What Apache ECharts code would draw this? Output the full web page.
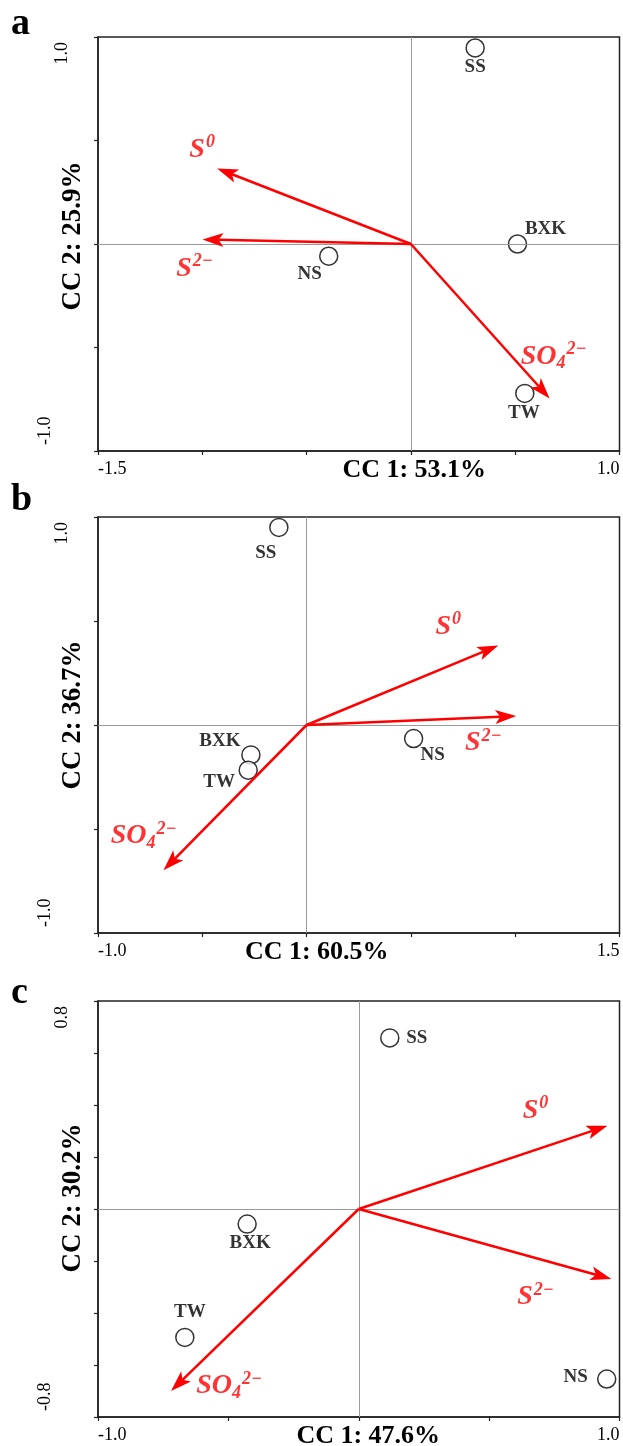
<!DOCTYPE html>
<html>
<head>
<meta charset="utf-8">
<script src="https://cdn.jsdelivr.net/npm/echarts@6/dist/echarts.min.js"></script>
<style>
html, body { margin: 0; padding: 0; background: #ffffff; }
#chart { width: 623px; height: 1446px; }
</style>
</head>
<body>
<div id="chart"></div>
<script>
// ---------------- data ----------------
const panelLetters = ['a', 'b', 'c'];
const siteNames = ['SS', 'BXK', 'NS', 'TW'];
const sitesAx = [0.308, 0.511, -0.394, 0.546];
const sitesAy = [0.947, 0.000, -0.059, -0.722];
const sitesBx = [-0.133, -0.267, 0.513, -0.280];
const sitesBy = [0.950, -0.144, -0.065, -0.217];
const sitesCx = [0.119, -0.428, 0.951, -0.667];
const sitesCy = [0.658, -0.058, -0.654, -0.494];

const varNames = ['S0', 'S2-', 'SO42-'];
const varsAx = [-0.929, -0.999, 0.665];
const varsAy = [0.365, 0.022, -0.746];
const varsBx = [0.919, 1.005, -0.686];
const varsBy = [0.382, 0.043, -0.698];
const varsCx = [0.954, 0.969, -0.720];
const varsCy = [0.320, -0.269, -0.700];

const xTitles = ['CC 1: 53.1%', 'CC 1: 60.5%', 'CC 1: 47.6%'];
const yTitles = ['CC 2: 25.9%', 'CC 2: 36.7%', 'CC 2: 30.2%'];
const xRanges = [[-1.5, 1.0], [-1.0, 1.5], [-1.0, 1.0]];
const yRanges = [[-1.0, 1.0], [-1.0, 1.0], [-0.8, 0.8]];
const xSteps = [0.5, 0.5, 0.5];
const ySteps = [0.5, 0.5, 0.2];

// ---------------- layout / style ----------------
const FONT = 'Liberation Serif';
const RED = '#ff0000';
const AXIS_COLOR = '#222222';
const gridBoxes = [
  { top: 37, height: 414 },
  { top: 517, height: 416 },
  { top: 1001, height: 416 }
];
const letterTops = [5, 481, 974];
const xNamePad = [[0, 0, 0, 111], [0, 84, 0, 0], [0, 0, 0, 19]];
const yNamePad = [[0, 0, 0, 16], [0, 0, 0, 20], [0, 0, 0, 22]];
const siteLabelOffsets = [
  [[0, 19], [28, -15], [-19, 18], [-1, 20]],
  [[-13, 26], [-31, -14], [19, 17], [-29, 12]],
  [[27, 0], [3, 19], [-31, -2], [5, -25]]
];
const varLabelOffsets = [
  [[-15, -19], [-8, 29], [4, -42]],
  [[-50, -19], [-33, 27], [-20, -34]],
  [[-72, -15], [-76, 18], [58, -5]]
];

const sitesX = [sitesAx, sitesBx, sitesCx];
const sitesY = [sitesAy, sitesBy, sitesCy];
const varsX = [varsAx, varsBx, varsCx];
const varsY = [varsAy, varsBy, varsCy];

function varRich(name) {
  if (name === 'S0') return '{m|S}{sup|0}';
  if (name === 'S2-') return '{m|S}{sup|2\u2212}';
  return '{m|SO}{sub|4}{sup|2\u2212}';
}

const varRichStyles = {
  m: { fontFamily: FONT, fontStyle: 'italic', fontWeight: 'bold', fontSize: 28, color: RED, lineHeight: 32 },
  sup: { fontFamily: FONT, fontStyle: 'italic', fontWeight: 'bold', fontSize: 18, color: RED, lineHeight: 18, verticalAlign: 'top', padding: [0, 0, 0, 1] },
  sub: { fontFamily: FONT, fontStyle: 'italic', fontWeight: 'bold', fontSize: 18, color: RED, lineHeight: 18, verticalAlign: 'bottom' }
};

function arrowRender(params, api) {
  const p0 = api.coord([0, 0]);
  const p1 = api.coord([api.value(0), api.value(1)]);
  const dx = p1[0] - p0[0], dy = p1[1] - p0[1];
  const L = Math.sqrt(dx * dx + dy * dy);
  const ux = dx / L, uy = dy / L;
  const headLen = 21, headHalf = 7, notch = 5;
  const bx = p1[0] - ux * headLen, by = p1[1] - uy * headLen;
  const nx = p1[0] - ux * (headLen - notch), ny = p1[1] - uy * (headLen - notch);
  const left = [bx - uy * headHalf, by + ux * headHalf];
  const right = [bx + uy * headHalf, by - ux * headHalf];
  return {
    type: 'group',
    children: [
      { type: 'line', shape: { x1: p0[0], y1: p0[1], x2: nx, y2: ny }, style: { stroke: RED, lineWidth: 2.5 } },
      { type: 'polygon', shape: { points: [p1, left, [nx, ny], right] }, style: { fill: RED } }
    ]
  };
}

const grid = [], xAxis = [], yAxis = [], series = [], title = [];

for (let i = 0; i < 3; i++) {
  grid.push({
    left: 98, width: 521.5, top: gridBoxes[i].top, height: gridBoxes[i].height,
    show: true, borderColor: AXIS_COLOR, borderWidth: 1.5, backgroundColor: 'transparent',
    containLabel: false, outerBoundsMode: 'none'
  });
  const xr = xRanges[i], yr = yRanges[i];
  xAxis.push({
    gridIndex: i, type: 'value', min: xr[0], max: xr[1], interval: xSteps[i],
    axisLine: { show: true, onZero: false, lineStyle: { color: AXIS_COLOR, width: 1.5 } },
    axisTick: { show: true, length: 4, lineStyle: { color: AXIS_COLOR, width: 1.2 } },
    splitLine: { show: false },
    axisLabel: {
      show: true, margin: 9, color: '#000', fontFamily: FONT, fontSize: 18,
      alignMinLabel: 'left', alignMaxLabel: 'right',
      formatter: function (v) {
        if (Math.abs(v - xr[0]) < 1e-6 || Math.abs(v - xr[1]) < 1e-6) return v.toFixed(1);
        return '';
      }
    },
    name: xTitles[i], nameLocation: 'middle', nameGap: 6, nameMoveOverlap: false,
    nameTextStyle: { fontFamily: FONT, fontWeight: 'bold', fontSize: 26, color: '#000', padding: xNamePad[i] }
  });
  yAxis.push({
    gridIndex: i, type: 'value', min: yr[0], max: yr[1], interval: ySteps[i],
    axisLine: { show: true, onZero: false, lineStyle: { color: AXIS_COLOR, width: 1.5 } },
    axisTick: { show: true, length: 4, lineStyle: { color: AXIS_COLOR, width: 1.2 } },
    splitLine: { show: false },
    axisLabel: {
      show: true, rotate: 90, margin: 27, color: '#000', fontFamily: FONT, fontSize: 18,
      alignMinLabel: 'left', alignMaxLabel: 'right',
      formatter: function (v) {
        if (Math.abs(v - yr[1]) < 1e-6) return '{hi|' + v.toFixed(1) + '}';
        if (Math.abs(v - yr[0]) < 1e-6) return '{lo|' + v.toFixed(1) + '}';
        return '';
      },
      rich: {
        hi: { fontFamily: FONT, fontSize: 18, color: '#000', padding: [0, 5, 0, 0] },
        lo: { fontFamily: FONT, fontSize: 18, color: '#000', padding: [0, 0, 17, 6] }
      }
    },
    name: yTitles[i], nameLocation: 'middle', nameGap: 11, nameMoveOverlap: false,
    nameTextStyle: { fontFamily: FONT, fontWeight: 'bold', fontSize: 27, color: '#000', padding: yNamePad[i] }
  });

  // sites (open circles) + zero lines
  series.push({
    type: 'scatter', xAxisIndex: i, yAxisIndex: i, z: 3,
    symbol: 'circle', symbolSize: 18,
    itemStyle: { color: '#ffffff', borderColor: '#000000', borderWidth: 1.5 },
    label: { show: true, position: 'inside', formatter: '{b}', fontFamily: FONT, fontWeight: 'bold', fontSize: 19, color: '#000' },
    data: sitesX[i].map(function (x, j) {
      return { name: siteNames[j], value: [x, sitesY[i][j]], label: { offset: siteLabelOffsets[i][j] } };
    }),
    markLine: {
      silent: true, symbol: 'none', animation: false, label: { show: false },
      lineStyle: { color: '#9a9a9a', width: 1, type: 'solid' },
      emphasis: { disabled: true },
      data: [{ xAxis: 0 }, { yAxis: 0 }]
    }
  });

  // biplot arrows
  series.push({
    type: 'custom', xAxisIndex: i, yAxisIndex: i, z: 5, silent: true,
    renderItem: arrowRender,
    data: varsX[i].map(function (x, j) { return [x, varsY[i][j]]; })
  });

  // arrow labels
  series.push({
    type: 'scatter', xAxisIndex: i, yAxisIndex: i, z: 6, silent: true,
    symbol: 'circle', symbolSize: 1, itemStyle: { color: 'rgba(0,0,0,0)' },
    label: { show: true, position: 'inside', rich: varRichStyles },
    data: varsX[i].map(function (x, j) {
      return { name: varNames[j], value: [x, varsY[i][j]], label: { formatter: varRich(varNames[j]), offset: varLabelOffsets[i][j] } };
    })
  });

  title.push({
    text: panelLetters[i], left: 11, top: letterTops[i], padding: 0,
    textStyle: { fontFamily: FONT, fontWeight: 'bold', fontSize: 38, color: '#000' }
  });
}

const chart = echarts.init(document.getElementById('chart'), null, { renderer: 'canvas' });
chart.setOption({
  animation: false,
  backgroundColor: '#ffffff',
  title: title,
  grid: grid,
  xAxis: xAxis,
  yAxis: yAxis,
  series: series
});
</script>
</body>
</html>
